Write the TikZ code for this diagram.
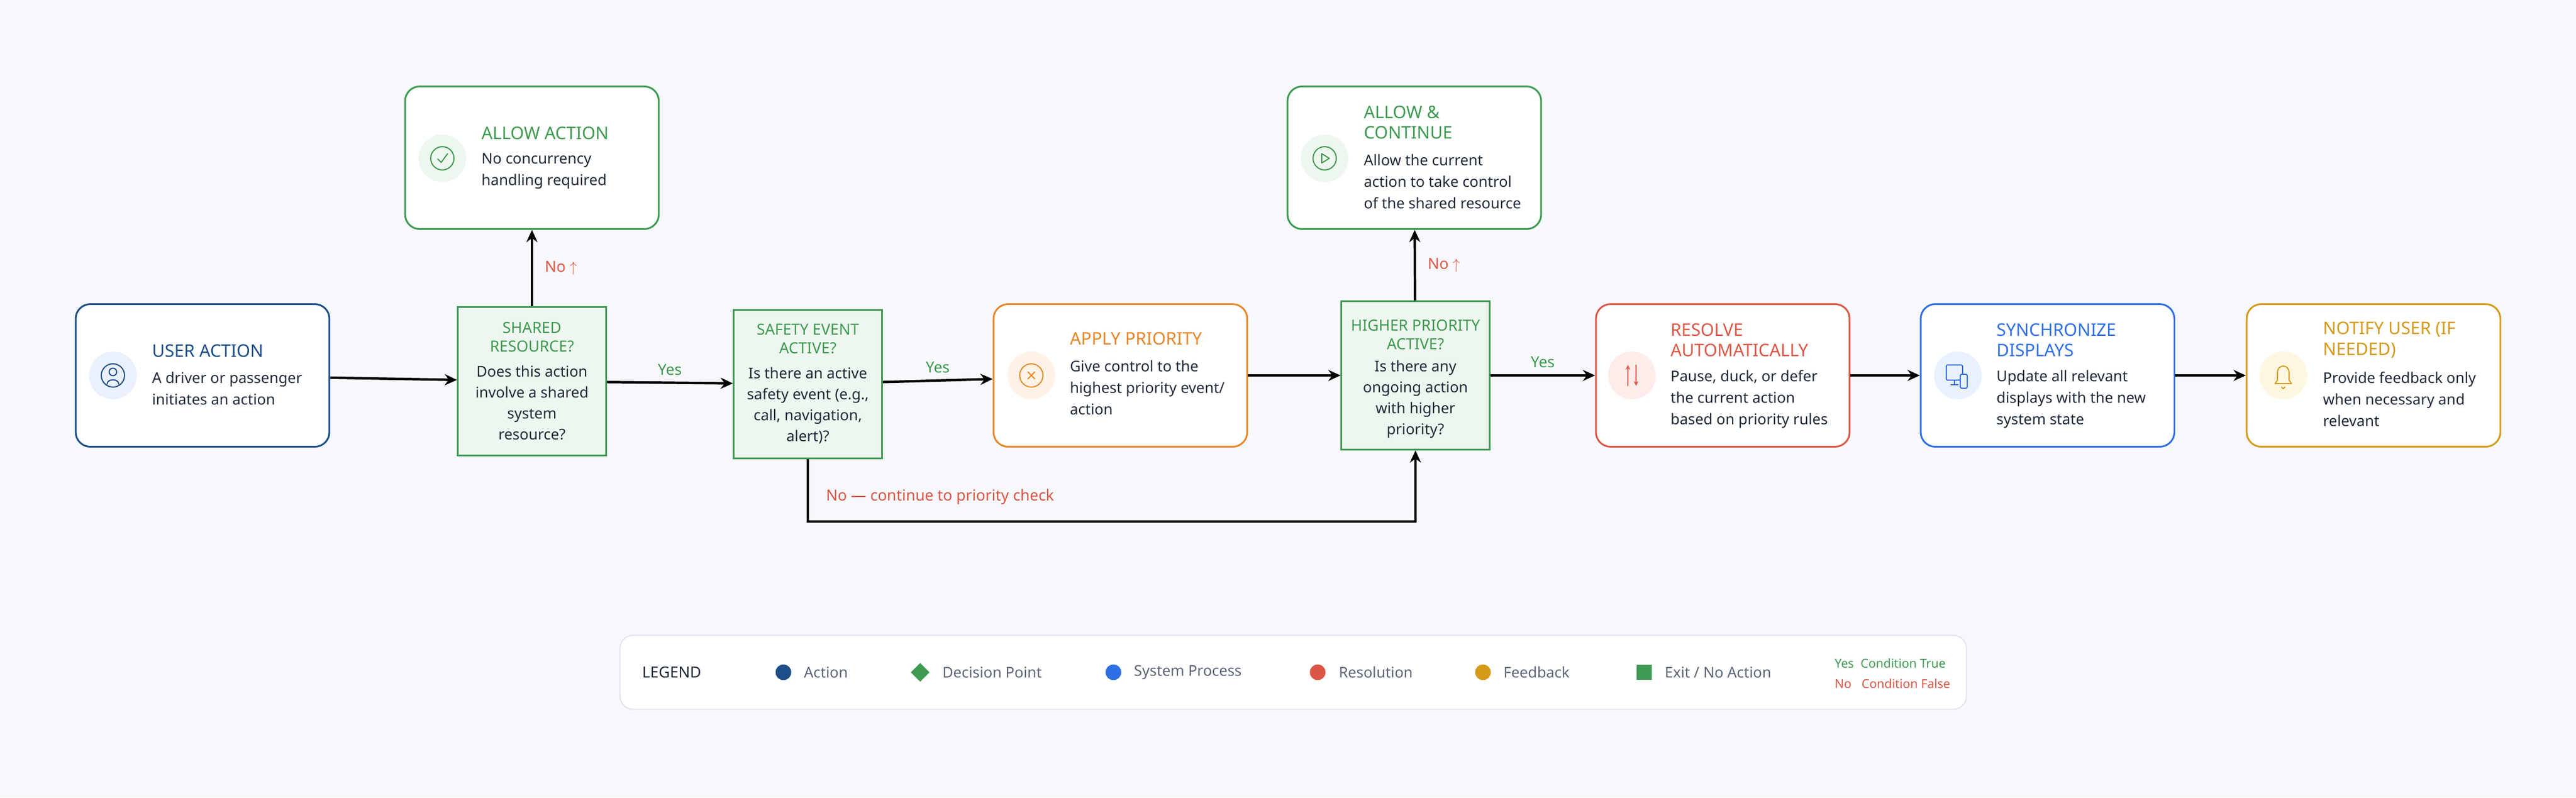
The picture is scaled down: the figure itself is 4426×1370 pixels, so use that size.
\documentclass[tikz,border=0pt]{standalone}
\usepackage{fontspec}
\setmainfont{Noto Sans}
\usetikzlibrary{arrows,arrows.meta,positioning}

\definecolor{bgcol}{HTML}{F7F8FB}
\definecolor{ink}{HTML}{1F2937}
\definecolor{muted}{HTML}{5B6477}
\definecolor{navy}{HTML}{1D4E89}
\definecolor{navytint}{HTML}{EAF1FC}
\definecolor{grn}{HTML}{3D9A50}
\definecolor{grntint}{HTML}{EEF7EF}
\definecolor{orng}{HTML}{E8872A}
\definecolor{orngtint}{HTML}{FEF3E6}
\definecolor{rd}{HTML}{DC5645}
\definecolor{rdtint}{HTML}{FDECEA}
\definecolor{blu}{HTML}{2F6FE4}
\definecolor{blutint}{HTML}{EAF1FE}
\definecolor{gld}{HTML}{D69A1A}
\definecolor{gldtint}{HTML}{FEF6E0}
\definecolor{legline}{HTML}{DDE2EA}

\newcommand{\ttlfont}{\fontsize{17}{20}\selectfont}
\newcommand{\bodyfont}{\fontsize{14.5}{21}\selectfont}

\begin{document}
\begin{tikzpicture}[x=0.02cm,y=-0.02cm,
  card/.style={draw,rounded corners=0.5cm,line width=1.7pt,fill=white,
    minimum width=8.72cm,minimum height=4.9cm,inner sep=0},
  decision/.style={draw=grn,fill=grntint,line width=1.5pt,
    minimum width=5.1cm,minimum height=5.1cm,inner sep=0},
  icon/.style={circle,minimum size=1.64cm,inner sep=0},
  ttl/.style={anchor=west,align=left,inner sep=0,font=\ttlfont},
  body/.style={anchor=west,align=left,inner sep=0,font=\bodyfont,text=ink},
  dttl/.style={align=center,inner sep=0,text=grn,font=\fontsize{15}{18}\selectfont},
  dbody/.style={align=center,inner sep=0,text=ink,font=\fontsize{14.5}{20.5}\selectfont},
  arr/.style={-{Stealth[length=0.42cm,width=0.38cm]},line width=2.4pt},
  yes/.style={text=grn,font=\fontsize{15}{17}\selectfont\bfseries},
  no/.style={text=rd,font=\fontsize{15}{17}\selectfont\bfseries},
  legtext/.style={anchor=west,inner sep=0,text=muted,font=\fontsize{14.5}{17}\selectfont},
  glyph/.style={line width=1.1pt,line cap=round,line join=round}]

\fill[bgcol] (0,0) rectangle (4426,1370);

% cards
\node[card,draw=navy] (user) at (348,645) {};
\node[card,draw=grn] (allow) at (914,271) {};
\node[card,draw=orng] (apply) at (1925,645) {};
\node[card,draw=grn] (allowc) at (2430,271) {};
\node[card,draw=rd] (resolve) at (2960,645) {};
\node[card,draw=blu] (sync) at (3518,645) {};
\node[card,draw=gld] (notify) at (4078,645) {};

% decisions
\node[decision] (shared) at (914,655) {};
\node[decision] (safety) at (1388,660) {};
\node[decision] (higher) at (2432,645) {};

% icons
\node[icon,fill=navytint] (userI) at (194,645) {};
\node[icon,fill=grntint] (allowI) at (760,272) {};
\node[icon,fill=orngtint] (applyI) at (1772,645) {};
\node[icon,fill=grntint] (allowcI) at (2276,272) {};
\node[icon,fill=rdtint] (resolveI) at (2804,645) {};
\node[icon,fill=blutint] (syncI) at (3364,645) {};
\node[icon,fill=gldtint] (notifyI) at (3923,645) {};

\begin{scope}[shift={(userI.center)},glyph,navy]
  \draw (0,0) circle[radius=0.4cm];
  \draw (0,-6) circle[radius=0.13cm];
  \draw (-10,15) .. controls (-10,5) and (10,5) .. (10,15);
\end{scope}
\begin{scope}[shift={(allowI.center)},glyph,grn]
  \draw (0,0) circle[radius=0.4cm];
  \draw (-8,1) -- (-2,7) -- (9,-8);
\end{scope}
\begin{scope}[shift={(allowcI.center)},glyph,grn]
  \draw (0,0) circle[radius=0.4cm];
  \draw (-5,-8) -- (8,0) -- (-5,8) -- cycle;
\end{scope}
\begin{scope}[shift={(applyI.center)},glyph,orng]
  \draw (0,0) circle[radius=0.4cm];
  \draw (-6,-6) -- (6,6) (-6,6) -- (6,-6);
\end{scope}
\begin{scope}[shift={(resolveI.center)},glyph,rd,>=stealth]
  \draw[->] (-7,18) -- (-7,-18);
  \draw[->] (7,-18) -- (7,18);
\end{scope}
\begin{scope}[shift={(syncI.center)},glyph,blu]
  \draw[rounded corners=1pt] (-20,-18) rectangle (8,8);
  \draw (-6,8) -- (-6,16) (-12,16) -- (0,16);
  \draw[fill=blutint,rounded corners=1.5pt] (4,-2) rectangle (16,22);
\end{scope}
\begin{scope}[shift={(notifyI.center)},glyph,gld]
  \draw (-14,14) -- (14,14) -- (10,8) -- (10,-6) arc[start angle=0,end angle=180,radius=0.2cm]
    -- (-10,8) -- cycle;
  \draw (-3,20) -- (0,23) -- (3,20);
\end{scope}

% card texts
\node[ttl,text=navy] (userT) at (261,603) {USER ACTION};
\node[body] (userB) at (261,667) {A driver or passenger\\initiates an action};
\node[ttl,text=grn] (allowT) at (827,229) {ALLOW ACTION};
\node[body] (allowB) at (827,294) {No concurrency\\handling required};
\node[ttl,text=orng] (applyT) at (1838,582) {APPLY PRIORITY};
\node[body] (applyB) at (1838,666) {Give control to the\\highest priority event/\\action};
\node[ttl,text=grn] (allowcT) at (2343,210) {ALLOW \&\\CONTINUE};
\node[body] (allowcB) at (2343,312) {Allow the current\\action to take control\\of the shared resource};
\node[ttl,text=rd] (resolveT) at (2870,584) {RESOLVE\\AUTOMATICALLY};
\node[body] (resolveB) at (2870,686) {Pause, duck, or defer\\the current action\\based on priority rules};
\node[ttl,text=blu] (syncT) at (3430,584) {SYNCHRONIZE\\DISPLAYS};
\node[body] (syncB) at (3430,686) {Update all relevant\\displays with the new\\system state};
\node[ttl,text=gld] (notifyT) at (3991,584) {NOTIFY USER (IF\\NEEDED)};
\node[body] (notifyB) at (3991,686) {Provide feedback only\\when necessary and\\relevant};

% decision texts
\node[dttl] (sharedT) at (914,579) {SHARED\\RESOURCE?};
\node[dbody] (sharedB) at (914,692) {Does this action\\involve a shared\\system\\resource?};
\node[dttl] (safetyT) at (1388,582) {SAFETY EVENT\\ACTIVE?};
\node[dbody] (safetyB) at (1388,697) {Is there an active\\safety event (e.g.,\\call, navigation,\\alert)?};
\node[dttl] (higherT) at (2432,575) {HIGHER PRIORITY\\ACTIVE?};
\node[dbody] (higherB) at (2432,686) {Is there any\\ongoing action\\with higher\\priority?};

% connectors
\draw[arr] (user) -- (shared);
\draw[arr] (shared) -- node[yes,above=3pt]{Yes} (safety);
\draw[arr] (safety) -- node[yes,above=3pt]{Yes} (apply);
\draw[arr] (apply) -- (higher);
\draw[arr] (higher) -- node[yes,above=3pt]{Yes} (resolve);
\draw[arr] (resolve) -- (sync);
\draw[arr] (sync) -- (notify);
\draw[arr] (shared) -- node[no,right=8pt]{No $\uparrow$} (allow);
\draw[arr] (higher) -- node[no,right=8pt]{No $\uparrow$} (allowc);

\coordinate (loopL) at (1388,896);
\coordinate (loopR) at (2432,896);
\draw[arr] (safety) -- (loopL) -- (loopR) -- (higher);
\node[no,anchor=west,inner sep=0] (loopT) at (1419,854) {No — continue to priority check};

% legend
\node[draw=legline,fill=white,line width=1pt,rounded corners=0.45cm,
  minimum width=46.28cm,minimum height=2.54cm] (legend) at (2222,1155) {};
\node[anchor=west,inner sep=0,text=ink,font=\fontsize{15}{17}\selectfont\bfseries] (legT) at (1103,1155) {LEGEND};
\fill[navy] (1346,1155) circle[radius=0.27cm];
\node[legtext] (legA) at (1381,1155) {Action};
\fill[grn] (1581,1139) -- (1597,1155) -- (1581,1171) -- (1565,1155) -- cycle;
\node[legtext] (legD) at (1619,1155) {Decision Point};
\fill[blu] (1913,1155) circle[radius=0.27cm];
\node[legtext] (legS) at (1948,1155) {System Process};
\fill[rd] (2264,1155) circle[radius=0.27cm];
\node[legtext] (legR) at (2300,1155) {Resolution};
\fill[gld] (2548,1155) circle[radius=0.27cm];
\node[legtext] (legF) at (2583,1155) {Feedback};
\fill[grn] (2812,1142) rectangle (2838,1168);
\node[legtext] (legE) at (2860,1155) {Exit / No Action};
\node[anchor=west,inner sep=0,text=grn,font=\fontsize{12}{14}\selectfont] (legY) at (3152,1140) {Yes\;\;Condition True};
\node[anchor=west,inner sep=0,text=rd,font=\fontsize{12}{14}\selectfont] (legN) at (3152,1175) {No\;\;\;Condition False};
\end{tikzpicture}
\end{document}
